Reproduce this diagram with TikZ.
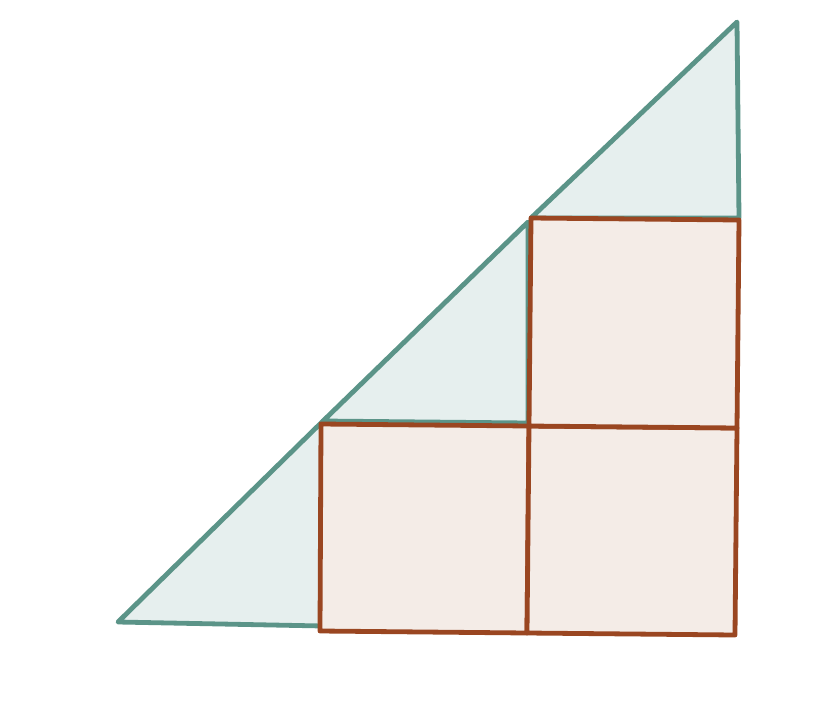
\documentclass[tikz,border=0pt]{standalone}
\usepackage{tikz}
\definecolor{tealline}{HTML}{5B9488}
\definecolor{tealfill}{HTML}{E6EFEE}
\definecolor{brownline}{HTML}{9A4621}
\definecolor{brownfill}{HTML}{F4ECE7}
\tikzset{
  tri/.style={draw=tealline,fill=tealfill,line width=4.8pt,line join=round},
  sq/.style={draw=brownline,fill=brownfill,line width=4.8pt,line join=round}
}
\begin{document}
\begin{tikzpicture}[x=1pt,y=-1pt]
\useasboundingbox (0,0) rectangle (828,710);
% triangle vertices
\coordinate (a1) at (118,622);
\coordinate (a2) at (323,421);
\coordinate (a3) at (323,626);
\coordinate (b2) at (528,222);
\coordinate (b3) at (528,423);
\coordinate (c1) at (531,218);
\coordinate (c2) at (737,22);
\coordinate (c3) at (739,218);
% square vertices
\coordinate (p1) at (321,424);
\coordinate (p2) at (529,426);
\coordinate (p3) at (527,633);
\coordinate (p4) at (320,631);
\coordinate (q2) at (737,428);
\coordinate (q3) at (735,635);
\coordinate (r2) at (739,220);
\filldraw[tri] (a1) -- (a2) -- (a3) -- cycle;
\filldraw[tri] (a2) -- (b2) -- (b3) -- cycle;
\filldraw[tri] (c1) -- (c2) -- (c3) -- cycle;
\filldraw[sq] (p1) -- (p2) -- (p3) -- (p4) -- cycle;
\filldraw[sq] (p2) -- (q2) -- (q3) -- (p3) -- cycle;
\filldraw[sq] (c1) -- (r2) -- (q2) -- (p2) -- cycle;
\end{tikzpicture}
\end{document}
